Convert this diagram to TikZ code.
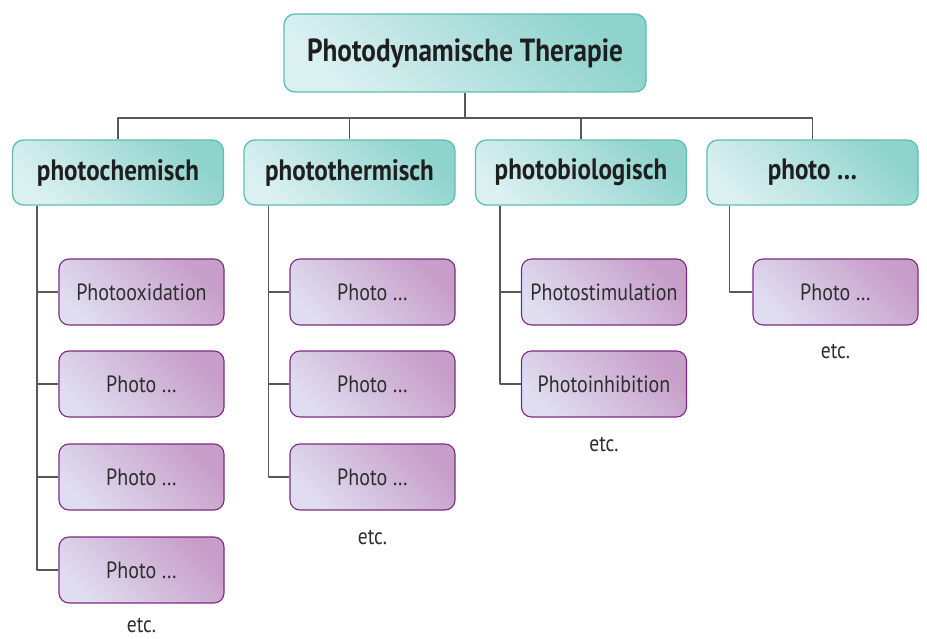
\documentclass[tikz,border=0pt]{standalone}
\usepackage{fontspec}
\setmainfont{PT Sans}[FakeStretch=0.85]
\definecolor{tealdark}{HTML}{8FD3CD}
\definecolor{teallight}{HTML}{DAF0F1}
\definecolor{tealline}{HTML}{5DBDB5}
\definecolor{lilacdark}{HTML}{C79DC9}
\definecolor{lilaclight}{HTML}{DFDDEF}
\definecolor{lilacline}{HTML}{7D2B82}
\definecolor{wire}{HTML}{585858}
\begin{document}
\begin{tikzpicture}[x=1pt,y=-1pt,line join=round]
	\tikzset{tealbox/.style={draw=tealline,line width=1.3pt,rounded corners=11pt,
			top color=tealdark,bottom color=teallight,shading angle=-45,
			font=\bfseries\fontsize{29.5}{34}\selectfont,text=black!88},
		topbox/.style={tealbox,minimum width=362pt,minimum height=78pt,
			font=\bfseries\fontsize{32}{36}\selectfont},
		catbox/.style={tealbox,minimum width=211pt,minimum height=65pt},
		itembox/.style={draw=lilacline,line width=1.1pt,rounded corners=10pt,
			top color=lilacdark,bottom color=lilaclight,shading angle=-45,
			minimum width=165pt,minimum height=66pt,
			font=\fontsize{23.5}{26}\selectfont,text=black!82},
		etc/.style={anchor=base,inner sep=0pt,font=\fontsize{23}{26}\selectfont,text=black!82},
		conn/.style={draw=wire,line width=1.6pt}}
	\useasboundingbox (0,0) rectangle (927,639);
	\node[topbox] (pdt) at (465,53) {Photodynamische Therapie};
	\coordinate (bus) at (465,118);
	\node[catbox] (chem) at (118,172.5) {photochemisch};
	\node[catbox] (therm) at (349.5,172.5) {photothermisch};
	\node[catbox] (bio) at (581,172.5) {photobiologisch};
	\node[catbox] (misc) at (812.5,172.5) {photo \dots};
	\node[itembox] (c1) at (141.5,292) {Photooxidation};
	\node[itembox] (c2) at (141.5,384) {Photo \dots};
	\node[itembox] (c3) at (141.5,477) {Photo \dots};
	\node[itembox] (c4) at (141.5,570) {Photo \dots};
	\node[itembox] (t1) at (372.5,292) {Photo \dots};
	\node[itembox] (t2) at (372.5,384) {Photo \dots};
	\node[itembox] (t3) at (372.5,477) {Photo \dots};
	\node[itembox] (b1) at (604,292) {Photostimulation};
	\node[itembox] (b2) at (604,384) {Photoinhibition};
	\node[itembox] (m1) at (835.5,292) {Photo \dots};
	\node[etc] (e1) at (141.5,632) {etc.};
	\node[etc] (e2) at (372.5,544) {etc.};
	\node[etc] (e3) at (604,451) {etc.};
	\node[etc] (e4) at (835.5,358) {etc.};
	\draw[conn] (pdt.south) -- (bus);
	\foreach \n in {chem,therm,bio,misc}
		\draw[conn] (\n.north) |- (bus);
	\foreach \n in {c1,c2,c3,c4}
		\draw[conn] ([xshift=25pt]chem.south west) |- (\n.west);
	\foreach \n in {t1,t2,t3}
		\draw[conn] ([xshift=25pt]therm.south west) |- (\n.west);
	\foreach \n in {b1,b2}
		\draw[conn] ([xshift=25pt]bio.south west) |- (\n.west);
	\draw[conn] ([xshift=23pt]misc.south west) |- (m1.west);
\end{tikzpicture}
\end{document}
